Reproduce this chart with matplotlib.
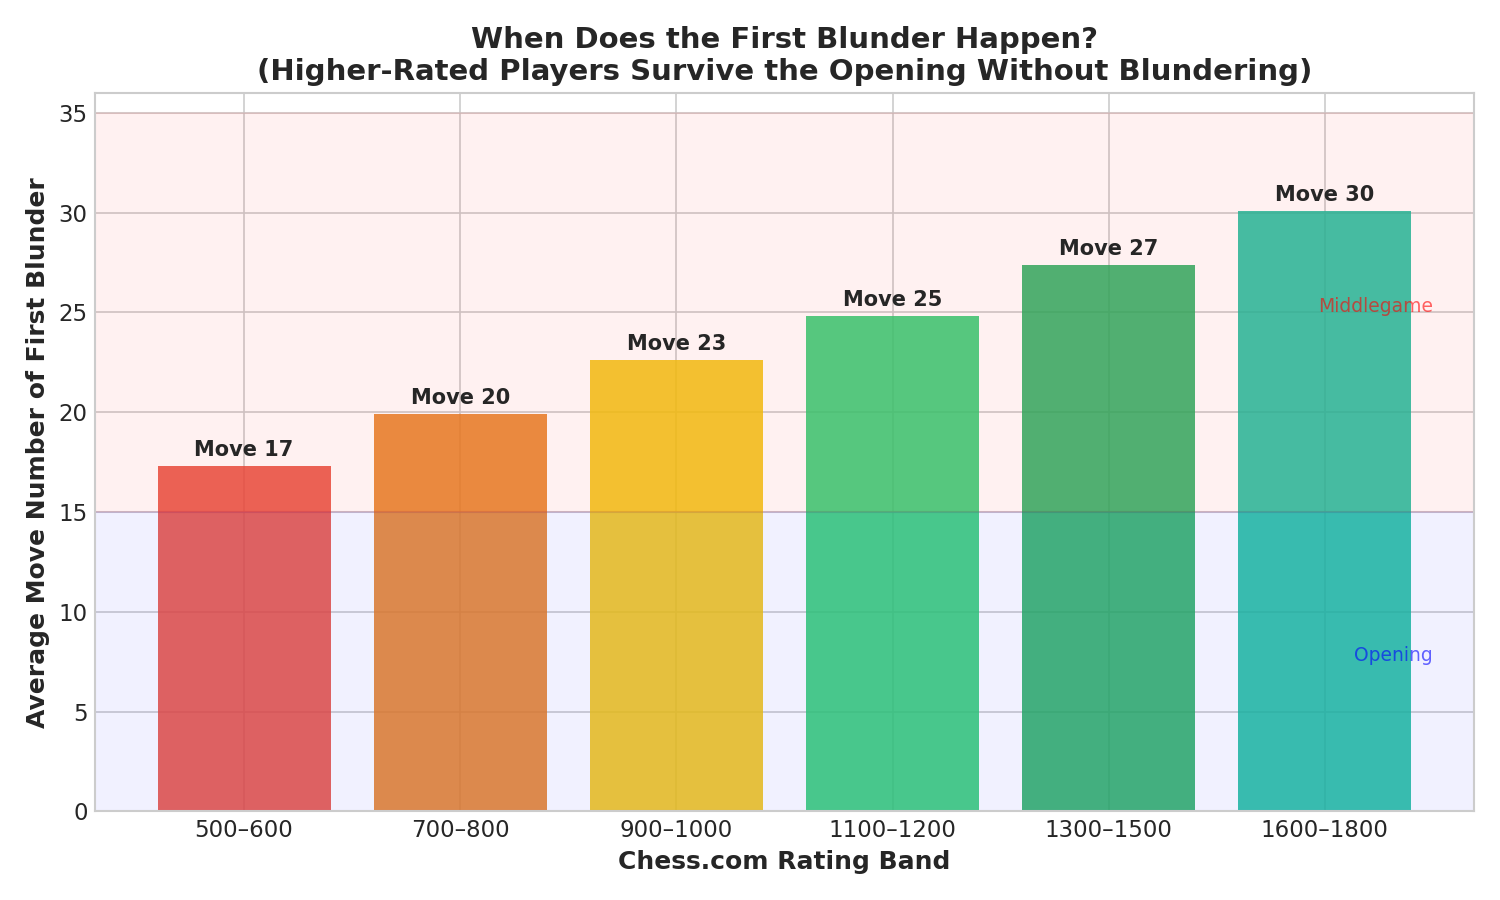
import matplotlib
matplotlib.use('Agg')
import matplotlib.pyplot as plt

bands = ['500–600', '700–800', '900–1000', '1100–1200', '1300–1500', '1600–1800']
first_blunder = [17.3, 19.9, 22.6, 24.8, 27.4, 30.1]
bar_colors = ['#e74c3c', '#e67e22', '#f1c40f', '#2ecc71', '#27ae60', '#1abc9c']

plt.style.use('seaborn-v0_8-whitegrid')
plt.rcParams['font.family'] = ['DejaVu Sans']

fig, ax = plt.subplots(figsize=(10, 6), dpi=150)

bars = ax.bar(bands, first_blunder, color=bar_colors, alpha=0.85, width=0.8)
for b, v in zip(bars, first_blunder):
    ax.text(b.get_x() + b.get_width() / 2, v + 0.3, f'Move {round(v)}',
            ha='center', va='bottom', fontsize=10, fontweight='bold', color='#262626')

# game phase zones, drawn over the bars
ax.axhspan(0, 15, color='blue', alpha=0.055)
ax.axhspan(15, 35, color='red', alpha=0.055)
ax.text(5.5, 7.8, 'Opening', ha='right', va='center', fontsize=9, color='blue', alpha=0.6)
ax.text(5.5, 25.3, 'Middlegame', ha='right', va='center', fontsize=9, color='red', alpha=0.6)

ax.set_ylim(0, 36)
ax.set_xlabel('Chess.com Rating Band', fontsize=12, fontweight='bold')
ax.set_ylabel('Average Move Number of First Blunder', fontsize=12, fontweight='bold')
ax.set_title('When Does the First Blunder Happen?\n(Higher-Rated Players Survive the Opening Without Blundering)',
             fontsize=14, fontweight='bold')
ax.tick_params(labelsize=11)
for s in ax.spines.values():
    s.set_visible(True)
    s.set_color('#cccccc')

fig.tight_layout(pad=1.25)
fig.savefig('out.png')
